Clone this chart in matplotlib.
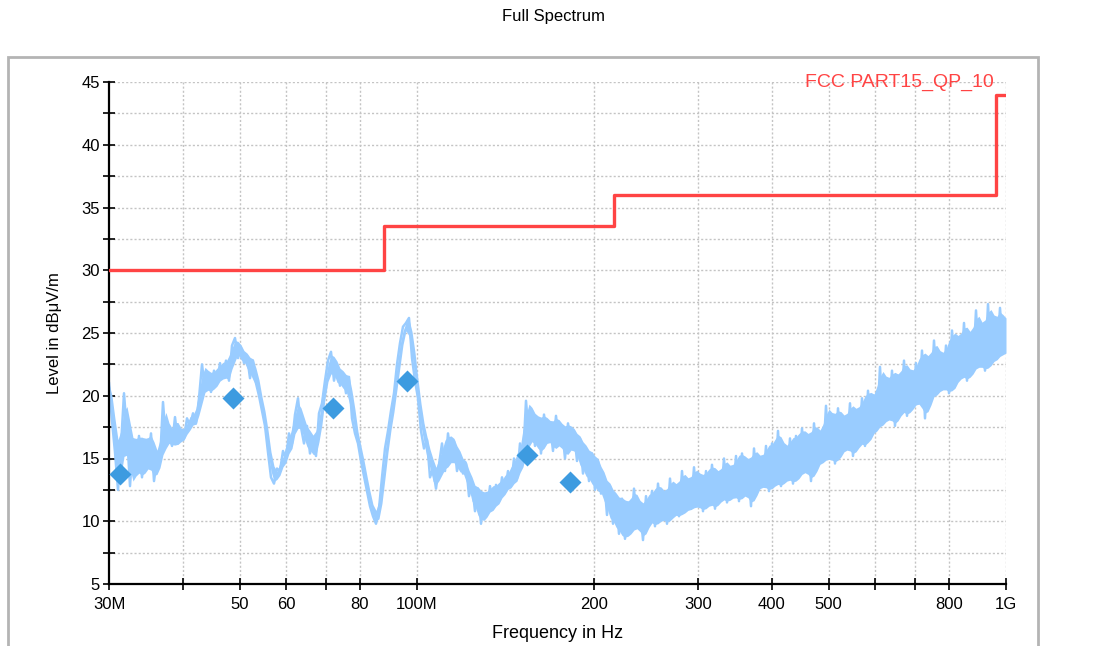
import numpy as np
import pandas as pd
import matplotlib
matplotlib.use("Agg")
import matplotlib.pyplot as plt
from matplotlib.patches import Rectangle

plt.rcParams['font.family'] = ['Liberation Sans', 'DejaVu Sans']

# limit line: FCC part 15, QP, 10 m (MHz, dBuV/m)
limit_freq = [30, 88, 88, 216, 216, 960, 960, 1000]
limit_level = [30.0, 30.0, 33.5, 33.5, 36.0, 36.0, 44.0, 44.0]

# final QP measurement points
qp_freq = [31.3, 48.8, 72.0, 96.1, 153.6, 181.6]
qp_level = [13.8, 19.8, 19.0, 21.2, 15.3, 13.1]

# pre-scan trace (log spaced sweep points 30M..1G)
scan_level = [
    21.0, 18.0, 15.5, 12.5, 16.0, 20.2, 17.0, 12.8, 16.5, 14.0,
    16.8, 13.5, 16.5, 14.5, 17.0, 13.2, 15.0, 14.8, 19.5, 16.3,
    17.0, 16.0, 18.3, 16.2, 17.0, 16.6, 18.2, 17.6, 18.6, 17.8,
    19.8, 22.5, 20.5, 21.8, 20.3, 22.0, 21.0, 22.6, 21.5, 22.8,
    21.2, 24.0, 24.6, 23.0, 23.8, 22.6, 23.2, 21.4, 22.8, 21.0,
    20.0, 18.8, 17.6, 15.5, 13.5, 13.0, 14.2, 14.0, 15.6, 15.0,
    17.0, 16.2, 18.5, 19.8, 17.5, 16.2, 17.6, 15.4, 16.5, 15.2,
    18.6, 19.4, 21.2, 22.8, 23.5, 21.2, 22.4, 20.8, 21.8, 20.2,
    21.5, 18.2, 17.0, 16.2, 14.8, 13.6, 12.4, 11.2, 10.4, 9.8,
    11.0, 13.5, 15.8, 17.2, 18.8, 20.2, 22.5, 24.2, 25.5, 25.8,
    26.2, 23.0, 21.2, 19.8, 17.2, 15.8, 16.5, 13.5, 14.2, 12.6,
    14.5, 16.2, 14.0, 17.0, 15.0, 16.4, 14.0, 15.2, 13.8, 14.6,
    12.0, 13.0, 10.8, 12.6, 9.8, 12.2, 10.6, 12.8, 11.0, 12.9,
    11.6, 13.5, 12.4, 14.0, 12.8, 15.0, 13.4, 16.2, 14.8, 19.6,
    16.5, 18.8, 16.0, 18.2, 15.4, 18.5, 16.6, 17.8, 15.6, 18.4,
    16.2, 17.5, 15.0, 17.8, 16.0, 17.2, 14.8, 16.6, 13.8, 15.8,
    13.2, 15.4, 12.5, 14.8, 12.2, 13.5, 10.5, 12.8, 9.8, 12.0,
    9.0, 11.8, 8.6, 11.5, 9.2, 12.6, 9.5, 11.2, 8.5, 12.0,
    10.0, 12.4, 9.6, 13.0, 10.2, 12.2, 9.8, 13.4, 10.5, 12.8,
    10.4, 14.0, 10.8, 13.2, 11.0, 14.3, 11.2, 13.6, 10.8, 14.0,
    11.4, 14.5, 11.0, 13.8, 11.8, 15.0, 11.5, 14.2, 12.0, 15.2,
    11.6, 15.4, 12.2, 14.8, 11.2, 15.8, 12.5, 15.0, 12.8, 16.0,
    12.4, 16.2, 13.0, 17.2, 12.8, 15.8, 13.4, 16.6, 13.0, 16.8,
    13.6, 17.4, 14.0, 16.8, 13.2, 17.8, 14.4, 17.0, 14.8, 19.2,
    15.0, 18.4, 14.6, 19.0, 15.4, 18.2, 15.8, 19.4, 15.2, 18.8,
    16.2, 19.8, 16.0, 20.4, 16.8, 20.0, 17.4, 22.3, 17.8, 21.2,
    18.2, 22.0, 17.6, 21.6, 18.8, 22.8, 18.4, 21.8, 19.2, 22.6,
    19.4, 23.6, 18.2, 23.0, 19.8, 24.4, 20.2, 23.2, 20.6, 24.0,
    20.2, 25.2, 20.8, 24.6, 21.6, 25.8, 21.2, 24.8, 22.0, 26.8,
    22.4, 25.4, 22.0, 27.3, 22.6, 26.0, 23.0, 27.0, 23.4, 25.4,
]
scan_freq = np.geomspace(30, 1000, len(scan_level))

xticks = [30, 40, 50, 60, 70, 80, 100, 200, 300, 400, 500, 600, 700, 800, 1000]
xlabels = ['30M', '', '50', '60', '', '80', '100M', '200', '300', '400', '500',
           '', '', '800', '1G']
yticks = np.arange(5, 45.1, 2.5)
ylabels = [f"{v:g}" if v % 5 == 0 else '' for v in yticks]

# solid body of the noisy trace (between the average local highs and lows)
s = pd.Series(scan_level)
band_hi = s.rolling(2, min_periods=1).max().rolling(3, center=True, min_periods=1).mean()
band_lo = s.rolling(2, min_periods=1).min().rolling(3, center=True, min_periods=1).mean()

fig = plt.figure(figsize=(10.96, 6.46), dpi=100)
fig.patches.append(Rectangle((8 / 1096, -0.05), 1030 / 1096, 1.05 - 57 / 646,
                             transform=fig.transFigure, fill=False,
                             edgecolor='#b4b4b4', linewidth=2))
ax = fig.add_axes([109 / 1096, 1 - 584 / 646, 897 / 1096, 502 / 646])

ax.fill_between(scan_freq, band_lo, band_hi, color='#99ccff', lw=0, zorder=2)
ax.plot(scan_freq, scan_level, color='#99ccff', lw=1.8, zorder=2)
ax.plot(limit_freq, limit_level, color='#ff4444', lw=2.4, zorder=3)
ax.plot(qp_freq, qp_level, 'D', color='#3d9be0', ms=11, mec='none', zorder=4)

ax.set_xscale('log')
ax.set_xlim(30, 1000)
ax.set_ylim(5, 45)
ax.set_xticks(xticks)
ax.set_xticklabels(xlabels)
ax.xaxis.set_minor_locator(matplotlib.ticker.NullLocator())
ax.set_yticks(yticks)
ax.set_yticklabels(ylabels)
ax.tick_params(direction='inout', length=9, width=1.2, labelsize=12)
ax.tick_params(axis='x', pad=5)
ax.tick_params(axis='y', pad=2)
ax.grid(True, color='#c4c4c4', linestyle=(0, (1.5, 1.5)), lw=1)
for v in ax.get_xgridlines()[:1]:
    v.set_visible(False)
for sp in ['top', 'right']:
    ax.spines[sp].set_visible(False)
for sp in ['left', 'bottom']:
    ax.spines[sp].set_linewidth(1.6)

ax.set_ylabel('Level in dBμV/m', fontsize=12, labelpad=14)
ax.set_xlabel('Frequency in Hz', fontsize=13, labelpad=9)
fig.text(553 / 1096, 1 - 16 / 646, 'Full Spectrum', ha='center', va='center', fontsize=12)
ax.text((805 - 109) / 897, 1.0, 'FCC PART15_QP_10', color='#ff4444', fontsize=14,
        transform=ax.transAxes, ha='left', va='center', clip_on=False)

fig.savefig('out.png', dpi=100)
